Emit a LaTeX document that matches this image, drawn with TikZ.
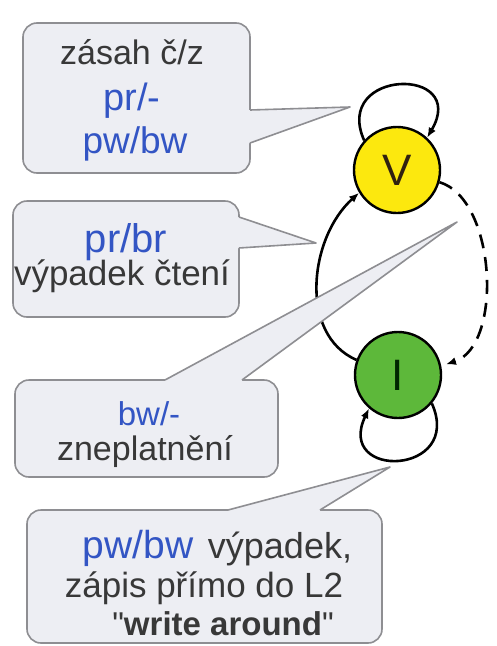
\documentclass[tikz,border=0pt]{standalone}
\usepackage{fontspec}
\setmainfont{Liberation Sans}
\usetikzlibrary{arrows.meta}

\definecolor{boxfill}{HTML}{EDEEF3}
\definecolor{boxline}{HTML}{8E8E92}
\definecolor{darktext}{HTML}{383838}
\definecolor{bluetext}{HTML}{3355C4}
\definecolor{vyellow}{HTML}{FCE80E}
\definecolor{igreen}{HTML}{5DB83A}

% straight double quote, placed as a glyph so the TeX text mapping leaves it alone
\newcommand{\sq}{\XeTeXglyph\XeTeXcharglyph"22\relax}

\begin{document}
\begin{tikzpicture}[x=1pt,y=-1pt,
  callbox/.style={draw=boxline, fill=boxfill, line width=1.6pt, rounded corners=14pt},
  tailfill/.style={fill=boxfill},
  tailline/.style={draw=boxline, line width=1.6pt, line join=round},
  state/.style={circle, draw=black, line width=2.4pt, minimum size=86pt, inner sep=0pt,
                font=\fontsize{44}{50}\selectfont},
  edge/.style={line width=2.6pt, -{Latex[length=10pt,width=8pt]}},
  dk/.style={anchor=base, inner sep=0pt, text=darktext},
  bl/.style={anchor=base, inner sep=0pt, text=bluetext},
]
\fill[white] (0,0) rectangle (496,646);
\useasboundingbox (0,0) rectangle (496,646);

% states
\node[state, fill=vyellow, text=black!75!brown] (V) at (397,170) {V};
\node[state, fill=igreen, text=black!85!green] (I) at (398,375) {I};

% transitions
\draw[edge] (V.138) .. controls +(-32,-72) and +(42,-72) .. (V.47);
\draw[edge] (I.320) .. controls +(32,72) and +(-34,72) .. (I.229);
\draw[edge] (I.160) .. controls +(-58,-25) and +(-50,45) .. (V.211);
\draw[edge, dash pattern=on 14pt off 9pt, shorten >=5pt] (V.344) .. controls +(57,17) and +(62,-20) .. (I.12);

% callout boxes
\node[callbox, minimum width=227pt, minimum height=150pt] (c1) at (136.5,98) {};
\node[callbox, minimum width=226pt, minimum height=116pt] (c2) at (126,259) {};
\node[callbox, minimum width=263pt, minimum height=97pt] (c3) at (146.5,428.5) {};
\node[callbox, minimum width=355pt, minimum height=133pt] (c4) at (204.5,576.5) {};

% pointer tips
\coordinate (p1) at (350,107);
\coordinate (p2) at (316,243);
\coordinate (p3) at (457,222);
\coordinate (p4) at (390,467);

% pointers
\fill[tailfill] (244,110) -- (250,110) -- (p1) -- (250,143) -- (244,143) -- cycle;
\draw[tailline] (250,110) -- (p1) -- (250,143);

\fill[tailfill] (233,217) -- (239,217) -- (p2) -- (239,248) -- (233,248) -- cycle;
\draw[tailline] (239,217) -- (p2) -- (239,248);

\fill[tailfill] (165,386) -- (165,380) -- (p3) -- (242,380) -- (242,386) -- cycle;
\draw[tailline] (165,380) -- (p3) -- (242,380);

\fill[tailfill] (228,516) -- (228,510) -- (p4) -- (320,510) -- (320,516) -- cycle;
\draw[tailline] (228,510) -- (p4) -- (320,510);

% texts
\node[dk, font=\fontsize{34}{40}\selectfont] (a1) at (132,64) {zásah č/z};
\node[bl, font=\fontsize{38}{44}\selectfont] (a2) at (132,110) {pr/-};
\node[bl, font=\fontsize{37}{44}\selectfont] (a3) at (135,153) {pw/bw};

\node[bl, font=\fontsize{40}{46}\selectfont] (b1) at (126,252) {pr/br};
\node[dk, font=\fontsize{35}{40}\selectfont] (b2) at (122,285) {výpadek čtení};

\node[bl, font=\fontsize{33}{40}\selectfont] (d1) at (149,425) {bw/-};
\node[dk, font=\fontsize{34}{40}\selectfont] (d2) at (145,460) {zneplatnění};

\node[bl, font=\fontsize{39}{44}\selectfont] (e1) at (138,558) {pw/bw};
\node[dk, font=\fontsize{36}{42}\selectfont] (e2) at (280,558) {výpadek,};
\node[dk, font=\fontsize{35}{42}\selectfont] (e3) at (204,597) {zápis přímo do L2};
\node[dk, font=\fontsize{33}{40}\selectfont] (e4) at (223,635) {\sq\textbf{write around}\sq};
\end{tikzpicture}
\end{document}
